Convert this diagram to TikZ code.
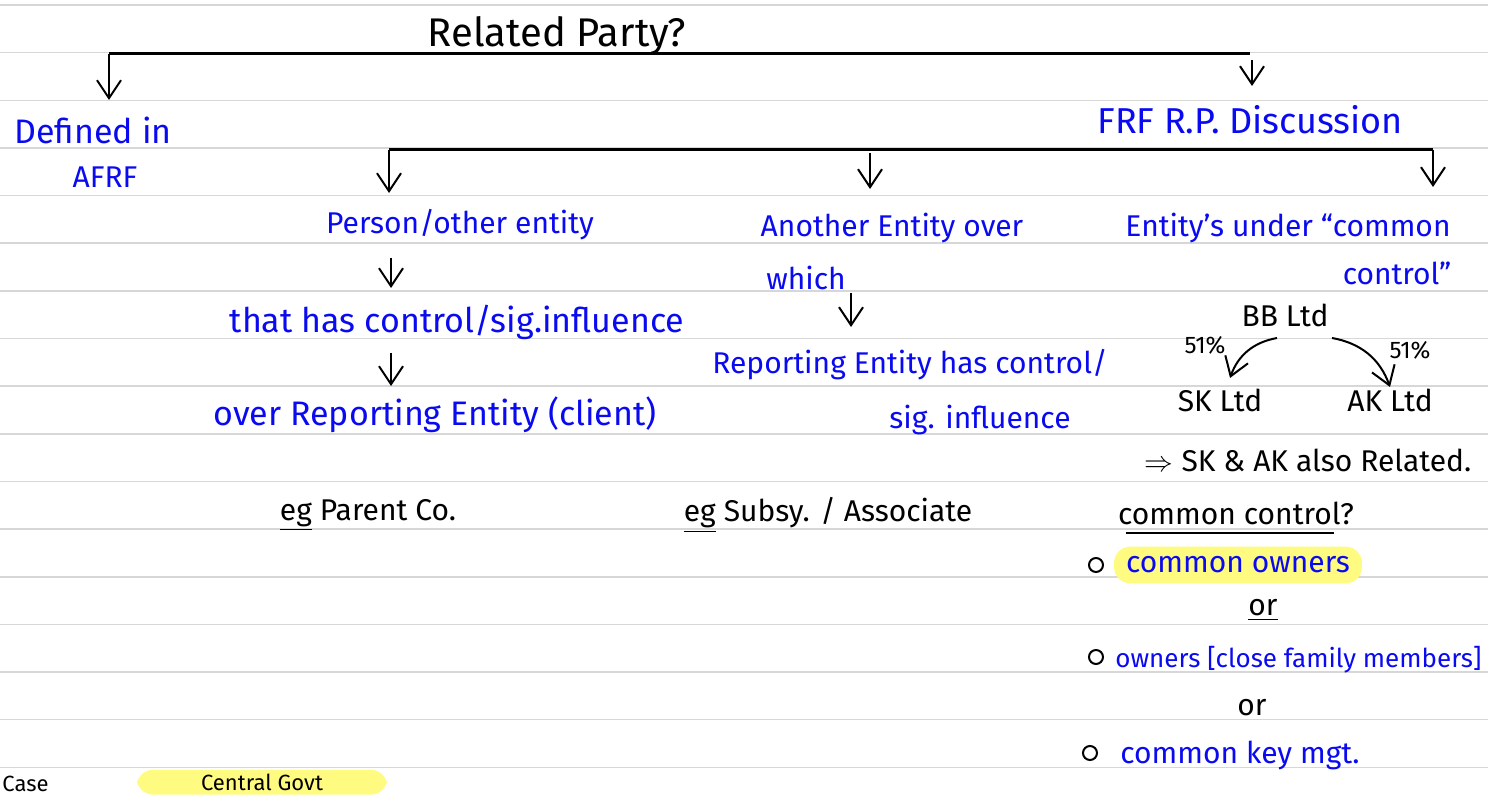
\documentclass[tikz,border=0pt]{standalone}
\usepackage{fontspec}
\setmainfont{Fira Sans}
\usetikzlibrary{arrows.meta}

\definecolor{pen}{RGB}{10,10,240}
\definecolor{ruling}{RGB}{215,215,215}
\definecolor{marker}{RGB}{255,250,128}

\tikzset{
  note/.style={text=pen, font=\fontsize{15}{18}\selectfont, inner sep=0pt},
  ink/.style={text=black, font=\fontsize{15}{18}\selectfont, inner sep=0pt},
  big/.style={font=\fontsize{17}{20}\selectfont},
  down/.style={-{Straight Barb[length=9pt,width=12pt]}, line width=1pt},
  bar/.style={line width=1.5pt},
  dot/.style={circle, draw, line width=1pt, minimum size=7pt, inner sep=0pt},
  marked/.style={fill=marker, rounded corners=8pt, inner xsep=6pt, inner ysep=5pt},
}

\begin{document}
\begin{tikzpicture}[x=0.5pt,y=-0.5pt]
\useasboundingbox (0,0) rectangle (1488,795);
\clip (0,0) rectangle (1488,795);

% ruled paper
\foreach \k in {0,...,16}
  \draw[ruling, line width=0.75pt] (0,{5+47.65*\k}) -- (1488,{5+47.65*\k});

% top level
\node[ink, font=\fontsize{20}{24}\selectfont] (rp) at (557,36) {Related Party?};
\coordinate (topL) at (109,54);
\coordinate (topR) at (1250,54);
\draw[bar] (topL) -- (topR);

\node[note, big] (def) at (93,130) {Defined in};
\node[note] (afrf) at (105,177) {AFRF};
\node[note, font=\fontsize{18}{21}\selectfont] (frf) at (1250,120) {FRF R.P. Discussion};

\coordinate (defTip) at (109,100);
\coordinate (frfTop) at (1252,60);
\coordinate (frfTip) at (1252,86);
\draw[down] (topL) -- (defTip);
\draw[down] (frfTop) -- (frfTip);

% second level
\coordinate (midL) at (389,150);
\coordinate (midR) at (1433,150);
\coordinate (personTip) at (389,193);
\coordinate (anotherTop) at (870,153);
\coordinate (anotherTip) at (870,189);
\coordinate (commonTip) at (1433,187);
\draw[bar] (midL) -- (midR);
\draw[down] (midL) -- (personTip);
\draw[down] (anotherTop) -- (anotherTip);
\draw[down] (midR) -- (commonTip);

% left branch
\node[note] (person) at (460,225) {Person/other entity};
\node[note, big] (hasctrl) at (457,322) {that has control/sig.influence};
\node[note, big] (overre) at (435,415) {over Reporting Entity (client)};
\node[ink] (egp) at (368,515) {\underline{eg} Parent Co.};

\coordinate (p1) at (391,258);
\coordinate (p2) at (391,288);
\coordinate (p3) at (391,353);
\coordinate (p4) at (391,386);
\draw[down] (p1) -- (p2);
\draw[down] (p3) -- (p4);

% middle branch
\node[note] (another) at (892,228) {Another Entity over};
\node[note] (which) at (806,278) {which};
\node[note] (rehas) at (910,365) {Reporting Entity has control/};
\node[note] (sig) at (980,420) {sig. influence};
\node[ink] (egs) at (828,515) {\underline{eg} Subsy. / Associate};

\coordinate (w1) at (851,293);
\coordinate (w2) at (851,327);
\draw[down] (w1) -- (w2);

% right branch
\node[note] (ucc) at (1288,228) {Entity's under ``common};
\node[note] (ucc2) at (1397,273) {control''};

\node[ink] (bb) at (1285,315) {BB Ltd};
\node[ink] (sk) at (1220,400) {SK Ltd};
\node[ink] (ak) at (1390,400) {AK Ltd};
\node[ink, font=\fontsize{12}{14}\selectfont] (pcL) at (1205,345) {51\%};
\node[ink, font=\fontsize{12}{14}\selectfont] (pcR) at (1410,350) {51\%};

\coordinate (bbL) at (1277,338);
\coordinate (skTip) at (1230,378);
\coordinate (bbR) at (1332,338);
\coordinate (akTip) at (1390,387);
\draw[down] (bbL) to[bend right=30] (skTip);
\draw[down] (bbR) to[bend left=30] (akTip);

\node[ink] (also) at (1308,460) {$\Rightarrow$ SK \& AK also Related.};
\node[ink] (cc) at (1236,513) {common control?};
\draw[line width=1.2pt] ([xshift=4pt,yshift=-4pt]cc.south west) -- ([xshift=-10pt,yshift=-4pt]cc.south east);

\node[note, marked] (owners) at (1238,565) {common owners};
\node[dot] (b1) at (1096,565) {};
\node[ink] (or1) at (1263,610) {\underline{or}};
\node[dot] (b2) at (1096,657) {};
\node[note, anchor=west, font=\fontsize{13}{16}\selectfont] (family) at (1115,660) {owners [close family members]};
\node[ink] (or2) at (1252,708) {or};
\node[dot] (b3) at (1090,753) {};
\node[note] (keymgt) at (1240,755) {common key mgt.};

% bottom line, at the foot of the page
\node[ink, anchor=south west, font=\fontsize{11}{13}\selectfont] (case) at (2,792) {Case};
\node[ink, marked, anchor=south, inner ysep=2pt, font=\fontsize{11}{13}\selectfont, minimum width=125pt] (govt) at (262,795) {Central Govt};
\end{tikzpicture}
\end{document}
